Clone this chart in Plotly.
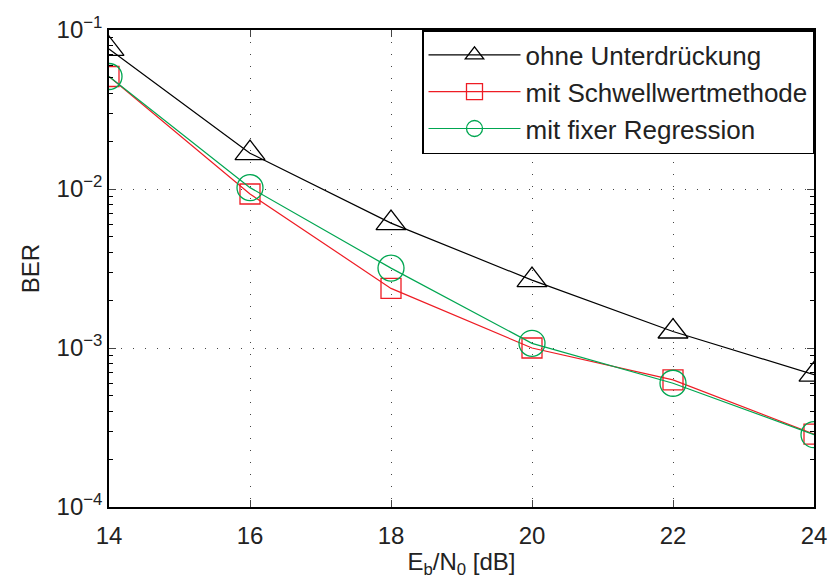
import plotly.graph_objects as go

x_db = [14, 16, 18, 20, 22, 24]
ber_ohne = [0.076, 0.0168, 0.0061, 0.00267, 0.00127, 0.00068]
ber_schwell = [0.051, 0.0093, 0.00237, 0.001, 0.00063, 0.000287]
ber_fix = [0.051, 0.0102, 0.00318, 0.00107, 0.0006, 0.000285]

names = ["ohne Unterdrückung", "mit Schwellwertmethode", "mit fixer Regression"]
y_tickvals = [1e-4, 1e-3, 1e-2, 1e-1]
y_ticktext = ["10<sup>−4</sup>", "10<sup>−3</sup>", "10<sup>−2</sup>", "10<sup>−1</sup>"]
y_minor_vals = [m * d for d in [1e-4, 1e-3, 1e-2] for m in range(2, 10)]
x_tickvals = [14, 16, 18, 20, 22, 24]

font = "Liberation Sans, Arial, Helvetica, sans-serif"
FS = 24

fig = go.Figure()
fig.add_trace(go.Scatter(x=x_db, y=ber_ohne, name=names[0], mode="lines+markers",
                         line=dict(color="black", width=1.2),
                         marker=dict(symbol="triangle-up-open", size=26, color="black",
                                     line=dict(width=1.3))))
fig.add_trace(go.Scatter(x=x_db, y=ber_schwell, name=names[1], mode="lines+markers",
                         line=dict(color="#ee1c24", width=1.2),
                         marker=dict(symbol="square-open", size=20, color="#ee1c24",
                                     line=dict(width=1.3))))
fig.add_trace(go.Scatter(x=x_db, y=ber_fix, name=names[2], mode="lines+markers",
                         line=dict(color="#00a651", width=1.2),
                         marker=dict(symbol="circle-open", size=26, color="#00a651",
                                     line=dict(width=1.3))))

fig.update_layout(
    width=829, height=588,
    margin=dict(l=109, r=15, t=30, b=81),
    paper_bgcolor="white", plot_bgcolor="white",
    font=dict(family=font, size=FS, color="#222"),
    showlegend=True,
    legend=dict(x=1, y=1, xanchor="right", yanchor="top",
                bordercolor="black", borderwidth=1.5, bgcolor="white",
                font=dict(size=26), tracegroupgap=0, itemwidth=92),
)
fig.update_xaxes(range=[14, 24], tickvals=x_tickvals, ticks="inside", ticklen=7,
                 ticklabelstandoff=6, automargin=False,
                 showline=True, mirror="ticks", linecolor="black", linewidth=1.5,
                 showgrid=True, gridcolor="#444", griddash="1px,11px", gridwidth=1,
                 zeroline=False, tickfont=dict(size=FS),
                 title=dict(text="E<sub>b</sub>/N<sub>0</sub> [dB]", font=dict(size=FS), standoff=6))
fig.update_yaxes(type="log", range=[-4, -1], tickvals=y_tickvals, ticktext=y_ticktext,
                 ticks="inside", ticklen=7, automargin=False,
                 minor=dict(tickmode="array", tickvals=y_minor_vals, ticks="inside",
                            ticklen=4, showgrid=False, tickcolor="black"),
                 showline=True, mirror="ticks", linecolor="black", linewidth=1.5,
                 showgrid=True, gridcolor="#444", griddash="1px,11px", gridwidth=1,
                 zeroline=False, tickfont=dict(size=FS),
                 title=dict(text="BER", font=dict(size=FS), standoff=10))

fig.write_html("out.html")
